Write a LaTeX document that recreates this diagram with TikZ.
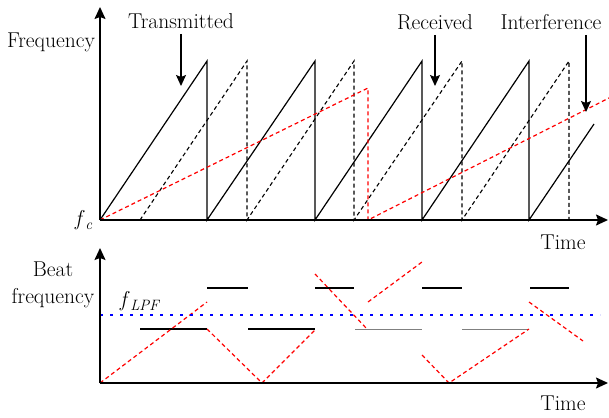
\documentclass[tikz,border=0pt]{standalone}
\usetikzlibrary{arrows.meta}
\begin{document}
\begin{tikzpicture}[x=1pt,y=-1pt,
  lbl/.style={font=\fontsize{21.5}{27}\selectfont, inner sep=0pt},
  axis/.style={line width=1.6pt, -{Stealth[length=12pt,width=11pt,inset=2pt]}},
  pointer/.style={line width=1.2pt, -{Stealth[length=11pt,width=10pt,inset=2pt]}},
  tx/.style={line width=1.2pt, line join=miter},
  rx/.style={line width=1.1pt, dash pattern=on 4pt off 3pt},
  intf/.style={line width=1.2pt, red, dash pattern=on 4pt off 3pt},
  beat/.style={line width=1.3pt},
  beatg/.style={line width=0.8pt, gray},
  lpf/.style={line width=2.6pt, blue, dash pattern=on 2.6pt off 7.4pt}]
\useasboundingbox (0,0) rectangle (609,417);
% ---------- top plot ----------
\coordinate (O1) at (100,220);
\coordinate (Y1) at (100,7);
\coordinate (X1) at (608,220);
\draw[tx] (100,220) -- (207,61) -- (207,220) -- (315,61) -- (315,220) -- (422,61) -- (422,220) -- (529,61) -- (529,220) -- (594,124);
\draw[rx] (140,220) -- (247,61) -- (247,220) -- (354,61) -- (354,220) -- (462,61) -- (462,220) -- (569,61) -- (569,220);
\draw[intf] (100,220) -- (368,88) -- (368,220) -- (609,98);
\draw[axis] (O1) -- (Y1);
\draw[axis] (O1) -- (X1);
\node[lbl, anchor=base] (freq) at (51,48) {Frequency};
\node[lbl, anchor=base west] (fc) at (75,225) {\textit{f}\kern0.5pt\raisebox{-4pt}{\fontsize{15}{15}\selectfont\textit{c}}};
\node[lbl, anchor=base] (time1) at (563,249) {Time};
\node[lbl, anchor=base] (txl) at (181,29) {Transmitted};
\node[lbl, anchor=base] (rxl) at (435,30) {Received};
\node[lbl, anchor=base] (ifl) at (551,30) {Interference};
\coordinate (txs) at (181,34);
\coordinate (txe) at (181,86);
\coordinate (rxs) at (435,35);
\coordinate (rxe) at (435,86);
\coordinate (ifs) at (586,35);
\coordinate (ife) at (586,112);
\draw[pointer] (txs) -- (txe);
\draw[pointer] (rxs) -- (rxe);
\draw[pointer] (ifs) -- (ife);
% ---------- bottom plot ----------
\coordinate (O2) at (100,383);
\coordinate (Y2) at (100,248);
\coordinate (X2) at (608,383);
\draw[beat] (140,329) -- (207,329);
\draw[beat] (248,329) -- (315,329);
\draw[beatg] (355,329) -- (422,329);
\draw[beatg] (462,329) -- (529,329);
\draw[beat] (207,288) -- (248,288);
\draw[beat] (315,288) -- (354,288);
\draw[beat] (422,288) -- (462,288);
\draw[beat] (530,288) -- (569,288);
\draw[intf] (100,383) -- (207,302);
\draw[intf] (207,329) -- (262,383) -- (316,329);
\draw[intf] (315,274) -- (367,329);
\draw[intf] (368,302) -- (422,262);
\draw[intf] (422,355) -- (449,383) -- (529,329);
\draw[intf] (529,302) -- (583,341);
\draw[lpf] (100,315) -- (600,315);
\draw[axis] (O2) -- (Y2);
\draw[axis] (O2) -- (X2);
\node[lbl, anchor=base, align=center] (beatl) at (53,303) {Beat\\frequency};
\node[lbl, anchor=base west] (flpf) at (120,306) {\textit{f}\kern0.5pt\raisebox{-4pt}{\fontsize{15}{15}\selectfont\textit{LPF}}};
\node[lbl, anchor=base] (time2) at (563,410) {Time};
\end{tikzpicture}
\end{document}
